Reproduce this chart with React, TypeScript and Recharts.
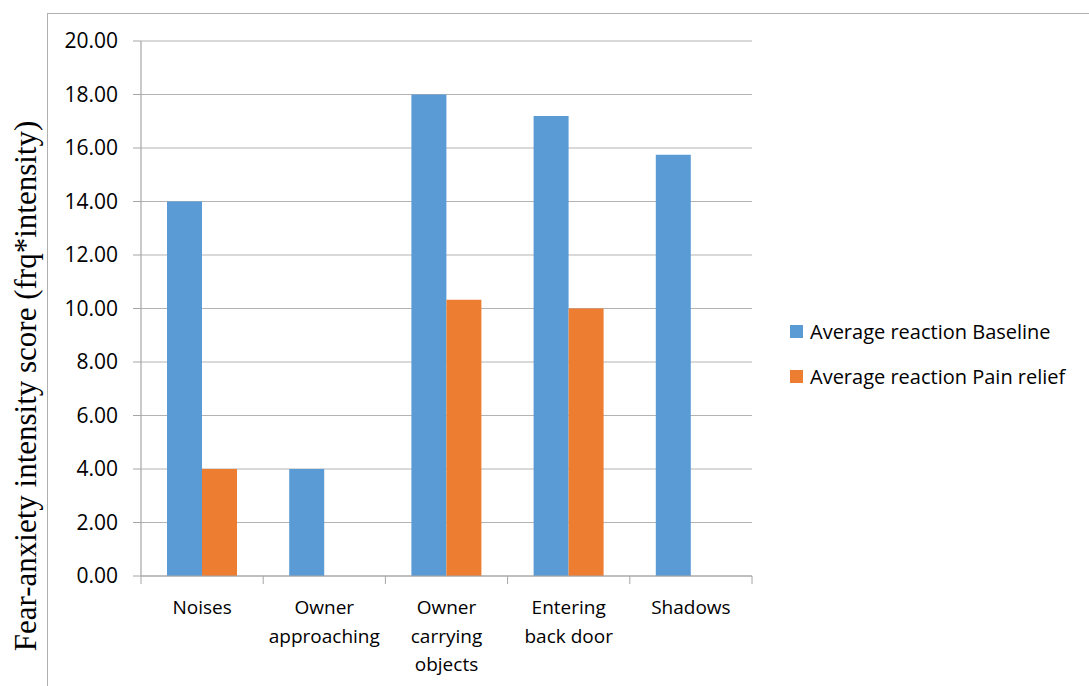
import { BarChart, Bar, XAxis, YAxis, CartesianGrid } from "recharts";

const categories = [
  "Noises",
  "Owner\napproaching",
  "Owner\ncarrying\nobjects",
  "Entering\nback door",
  "Shadows",
];
const baseline = [14, 4, 18, 17.2, 15.75];
const painRelief = [4, 0, 10.33, 10, 0];
const yTicks = [0, 2, 4, 6, 8, 10, 12, 14, 16, 18, 20];
const seriesNames = ["Average reaction Baseline", "Average reaction Pain relief"];
const seriesColors = ["#5B9BD5", "#ED7D31"];

const data = categories.map((name, i) => ({
  name,
  baseline: baseline[i],
  painRelief: painRelief[i],
}));

const PLOT_LEFT = 141;
const PLOT_RIGHT = 752;
const BAND = (PLOT_RIGHT - PLOT_LEFT) / categories.length;
const AXIS_GREY = "#a6a6a6";
const TICK_FONT = "'Open Sans', Lato, sans-serif";

function CategoryTick(props: any) {
  const { x, y, payload, index } = props;
  const lines = String(payload.value).split("\n");
  return (
    <g>
      <line x1={x - BAND / 2} y1={y - 8} x2={x - BAND / 2} y2={y} stroke={AXIS_GREY} />
      {index === categories.length - 1 && (
        <line x1={x + BAND / 2} y1={y - 8} x2={x + BAND / 2} y2={y} stroke={AXIS_GREY} />
      )}
      <text x={x} y={y + 30} textAnchor="middle" fontSize={19} fill="#000" fontFamily={TICK_FONT}>
        {lines.map((l, i) => (
          <tspan key={i} x={x} dy={i === 0 ? 0 : 28.5}>
            {l}
          </tspan>
        ))}
      </text>
    </g>
  );
}

export default function App() {
  return (
    <div style={{ position: "absolute", left: 0, top: 0, width: 1089, height: 686, overflow: "hidden", background: "#fff" }}>
      <div
        style={{
          position: "absolute",
          left: 47,
          top: 13,
          width: 1200,
          height: 800,
          border: "1.5px solid #b0b0b0",
        }}
      />
      <div
        style={{
          position: "absolute",
          left: 25,
          top: 386,
          transform: "translate(-50%, -50%) rotate(-90deg)",
          whiteSpace: "nowrap",
          fontFamily: "'Liberation Serif', 'DejaVu Serif', serif",
          fontSize: 31,
          lineHeight: 1,
          color: "#000",
        }}
      >
        Fear-anxiety intensity score (frq*intensity)
      </div>
      <BarChart
        width={1089}
        height={686}
        data={data}
        margin={{ top: 41, right: 1089 - PLOT_RIGHT, bottom: 0, left: PLOT_LEFT - 75 }}
        barCategoryGap={26}
        barGap={0}
        style={{ position: "absolute", left: 0, top: 0 }}
      >
        <CartesianGrid vertical={false} stroke="#b3b3b3" strokeWidth={1.2} />
        <XAxis
          dataKey="name"
          height={110}
          interval={0}
          tickLine={false}
          axisLine={{ stroke: AXIS_GREY, strokeWidth: 1.2 }}
          tick={<CategoryTick />}
        />
        <YAxis
          width={75}
          domain={[0, 20]}
          ticks={yTicks}
          interval={0}
          tickFormatter={(v: number) => v.toFixed(2)}
          tickSize={8}
          tickMargin={15}
          tickLine={{ stroke: AXIS_GREY }}
          axisLine={{ stroke: AXIS_GREY, strokeWidth: 1.2 }}
          tick={{ fill: "#000", fontSize: 21, fontFamily: TICK_FONT }}
        />
        <Bar dataKey="baseline" name={seriesNames[0]} fill={seriesColors[0]} isAnimationActive={false} />
        <Bar dataKey="painRelief" name={seriesNames[1]} fill={seriesColors[1]} isAnimationActive={false} />
      </BarChart>
      <div
        style={{
          position: "absolute",
          left: 790,
          top: 309,
          fontFamily: TICK_FONT,
          fontSize: 20,
          color: "#000",
        }}
      >
        {seriesNames.map((label, i) => (
          <div key={label} style={{ display: "flex", alignItems: "center", height: 45 }}>
            <span style={{ width: 13, height: 13, background: seriesColors[i], marginRight: 7 }} />
            <span>{label}</span>
          </div>
        ))}
      </div>
    </div>
  );
}
